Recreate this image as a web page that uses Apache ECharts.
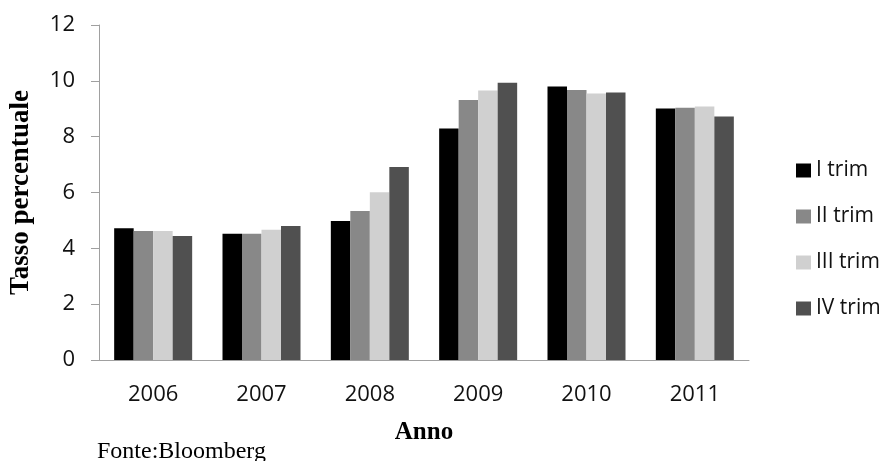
<!DOCTYPE html>
<html>
<head>
<meta charset="utf-8">
<style>
  html, body { margin: 0; padding: 0; background: #fff; }
  #chart { width: 883px; height: 461px; }
</style>
<script src="https://cdn.jsdelivr.net/npm/echarts@6/dist/echarts.min.js"></script>
</head>
<body>
<div id="chart"></div>
<script>
// Tasso percentuale per anno e trimestre
const anni = ['2006', '2007', '2008', '2009', '2010', '2011'];
const trim1 = [4.72, 4.52, 4.98, 8.29, 9.80, 9.01];
const trim2 = [4.62, 4.52, 5.34, 9.31, 9.67, 9.04];
const trim3 = [4.62, 4.67, 6.01, 9.65, 9.55, 9.08];
const trim4 = [4.44, 4.80, 6.91, 9.93, 9.58, 8.72];
const nomiSerie = ['I trim', 'II trim', 'III trim', 'IV trim'];
const coloriSerie = ['#000000', '#888888', '#d0d0d0', '#505050'];
const yTicks = { min: 0, max: 12, interval: 2 };

const sans = '"Open Sans", "Noto Sans", sans-serif';
const serif = '"Liberation Serif", "DejaVu Serif", serif';
const axisGray = '#a0a0a0';

const valori = [trim1, trim2, trim3, trim4];

const chart = echarts.init(document.getElementById('chart'), null, { renderer: 'canvas' });

chart.setOption({
  animation: false,
  backgroundColor: '#ffffff',
  grid: { left: 94, right: 134, top: 25, bottom: 101, containLabel: false },
  legend: {
    orient: 'vertical',
    left: 791,
    top: 155,
    itemWidth: 15,
    itemHeight: 14,
    itemGap: 25,
    icon: 'rect',
    data: nomiSerie,
    textStyle: { fontFamily: sans, fontSize: 21, color: '#111', padding: [0, 0, 0, 0] }
  },
  xAxis: {
    type: 'category',
    data: anni,
    name: 'Anno',
    nameLocation: 'middle',
    nameGap: 60,
    nameTextStyle: { fontFamily: serif, fontSize: 25, fontWeight: 'bold', color: '#000' },
    axisLine: { lineStyle: { color: axisGray, width: 1 } },
    axisTick: { length: 8, lineStyle: { color: axisGray } },
    axisLabel: { fontFamily: sans, fontSize: 22, color: '#111', margin: 24 }
  },
  yAxis: {
    type: 'value',
    min: yTicks.min,
    max: yTicks.max,
    interval: yTicks.interval,
    name: 'Tasso percentuale',
    nameLocation: 'middle',
    nameGap: 64,
    nameRotate: 90,
    nameTextStyle: { fontFamily: serif, fontSize: 27, fontWeight: 'bold', color: '#000' },
    axisLine: { show: true, lineStyle: { color: axisGray, width: 1 } },
    axisTick: { show: true, length: 8, lineStyle: { color: axisGray } },
    splitLine: { show: false },
    axisLabel: { fontFamily: sans, fontSize: 22, color: '#111', margin: 24 }
  },
  graphic: [{
    type: 'text',
    left: 97,
    top: 440,
    style: { text: 'Fonte:Bloomberg', font: '24px ' + serif, fill: '#000' }
  }],
  series: nomiSerie.map((nome, i) => ({
    name: nome,
    type: 'bar',
    data: valori[i],
    barGap: '0%',
    barCategoryGap: '28%',
    itemStyle: { color: coloriSerie[i] }
  }))
});
</script>
</body>
</html>
